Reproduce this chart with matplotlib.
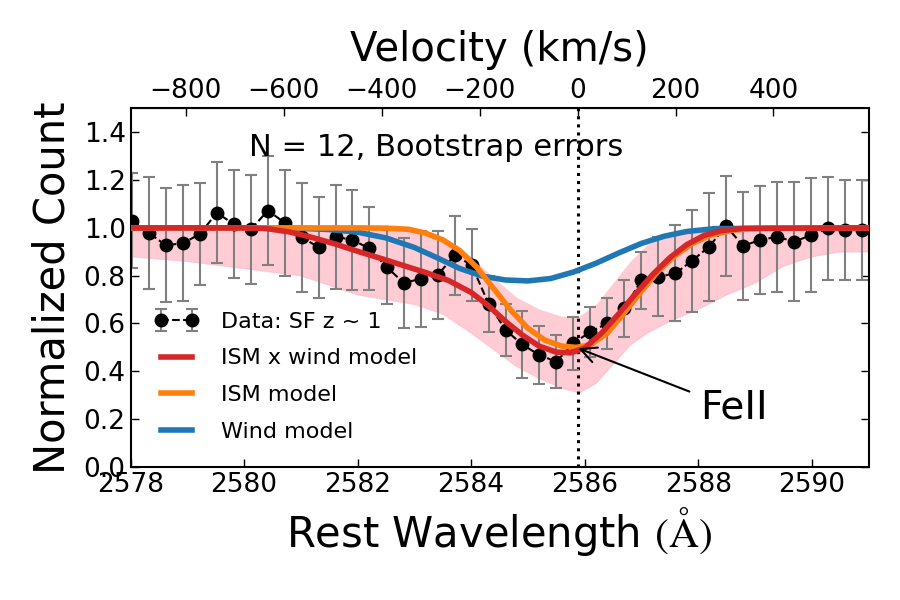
"""FeII 2586 absorption profile: stacked SF z~1 spectrum with ISM / wind model fits."""

import matplotlib
matplotlib.use("Agg")
import matplotlib.pyplot as plt
import numpy as np

plt.rcParams["font.family"] = ["DejaVu Sans"]
plt.rcParams["mathtext.fontset"] = "stix"

C_KMS = 299792.458
LAMBDA0 = 2585.876  # FeII rest wavelength (air)

# stacked data
wave = [2578.03, 2578.32, 2578.62, 2578.92, 2579.22, 2579.52, 2579.82, 2580.12,
        2580.42, 2580.72, 2581.02, 2581.32, 2581.62, 2581.91, 2582.21, 2582.51,
        2582.81, 2583.11, 2583.41, 2583.71, 2584.01, 2584.31, 2584.61, 2584.90,
        2585.20, 2585.50, 2585.80, 2586.10, 2586.40, 2586.70, 2587.00, 2587.30,
        2587.60, 2587.89, 2588.19, 2588.49, 2588.79, 2589.09, 2589.39, 2589.69,
        2589.99, 2590.29, 2590.59, 2590.89]
flux = [1.030, 0.979, 0.928, 0.935, 0.974, 1.063, 1.016, 0.994,
        1.072, 1.021, 0.960, 0.918, 0.963, 0.949, 0.914, 0.837,
        0.770, 0.786, 0.802, 0.886, 0.844, 0.681, 0.572, 0.512,
        0.468, 0.440, 0.517, 0.565, 0.600, 0.663, 0.781, 0.795,
        0.810, 0.862, 0.921, 1.008, 0.925, 0.949, 0.963, 0.942,
        0.970, 0.998, 0.991, 0.991]
flux_err = [0.200, 0.233, 0.238, 0.243, 0.212, 0.212, 0.227, 0.227,
            0.227, 0.222, 0.227, 0.212, 0.217, 0.208, 0.175, 0.155,
            0.187, 0.200, 0.183, 0.165, 0.150, 0.117, 0.110, 0.140,
            0.120, 0.110, 0.110, 0.105, 0.105, 0.120, 0.120, 0.165,
            0.200, 0.214, 0.226, 0.210, 0.225, 0.225, 0.230, 0.250,
            0.237, 0.216, 0.210, 0.210]

# bootstrap model envelope (pink lines)
boot_wave = [2578.0, 2579.0, 2580.0, 2581.0, 2582.0, 2582.5, 2583.0, 2583.5,
             2584.0, 2584.4, 2584.8, 2585.2, 2585.6, 2585.9, 2586.2, 2586.5,
             2586.8, 2587.1, 2587.5, 2588.0, 2588.5, 2589.0, 2589.5, 2590.0,
             2590.5, 2591.0]
boot_lo = [0.88, 0.86, 0.83, 0.80, 0.72, 0.70, 0.68, 0.64,
           0.56, 0.49, 0.42, 0.37, 0.33, 0.31, 0.35, 0.43,
           0.51, 0.56, 0.61, 0.66, 0.72, 0.77, 0.84, 0.88,
           0.90, 0.90]
boot_hi = [1.00, 1.00, 1.00, 1.00, 1.00, 1.00, 0.99, 0.96,
           0.88, 0.79, 0.71, 0.66, 0.63, 0.63, 0.68, 0.77,
           0.86, 0.93, 0.97, 1.00, 1.00, 1.00, 1.00, 1.00,
           1.00, 1.00]

# best-fit models
ism_wave = [2578.0, 2581.0, 2582.0, 2582.5, 2582.9, 2583.2, 2583.5, 2583.8,
            2584.1, 2584.4, 2584.7, 2585.0, 2585.3, 2585.6, 2585.85, 2586.1,
            2586.4, 2586.7, 2587.0, 2587.3, 2587.6, 2587.9, 2588.2, 2588.6,
            2589.0, 2591.0]
ism_flux = [1.000, 1.000, 1.000, 0.999, 0.994, 0.978, 0.950, 0.905,
            0.835, 0.745, 0.655, 0.580, 0.530, 0.505, 0.500, 0.510,
            0.560, 0.645, 0.735, 0.820, 0.885, 0.935, 0.968, 0.990,
            0.998, 1.000]

tot_wave = [2578.0, 2580.0, 2580.4, 2580.8, 2581.2, 2581.6, 2582.0, 2582.4,
            2582.8, 2583.2, 2583.6, 2584.0, 2584.3, 2584.6, 2584.9, 2585.2,
            2585.5, 2585.75, 2586.0, 2586.3, 2586.6, 2586.9, 2587.2, 2587.5,
            2587.8, 2588.1, 2588.4, 2588.8, 2591.0]
tot_flux = [1.000, 1.000, 0.997, 0.983, 0.960, 0.933, 0.902, 0.873,
            0.843, 0.813, 0.780, 0.730, 0.675, 0.610, 0.552, 0.505,
            0.480, 0.477, 0.497, 0.560, 0.640, 0.725, 0.805, 0.875,
            0.930, 0.968, 0.988, 0.998, 1.000]

wind_wave = [2578.0, 2580.5, 2581.0, 2581.5, 2582.0, 2582.5, 2583.0, 2583.4,
             2583.8, 2584.2, 2584.6, 2585.0, 2585.4, 2585.8, 2586.2, 2586.6,
             2587.0, 2587.4, 2587.8, 2588.3, 2591.0]
wind_flux = [1.000, 1.000, 0.998, 0.993, 0.982, 0.958, 0.918, 0.875,
             0.830, 0.798, 0.782, 0.778, 0.788, 0.815, 0.852, 0.895,
             0.935, 0.965, 0.985, 0.997, 1.000]

XTICKS = [2578, 2580, 2582, 2584, 2586, 2588, 2590]
YTICKS = [0.0, 0.2, 0.4, 0.6, 0.8, 1.0, 1.2, 1.4]
VTICKS = [-800, -600, -400, -200, 0, 200, 400]


def to_vel(lam):
    return (np.asarray(lam) - LAMBDA0) / LAMBDA0 * C_KMS


def to_lam(v):
    return LAMBDA0 * (1 + np.asarray(v) / C_KMS)


def main():
    fig = plt.figure(figsize=(9, 6), dpi=100)
    ax = fig.add_axes([0.145, 0.222, 0.82, 0.5973])

    ax.fill_between(boot_wave, boot_lo, boot_hi, color="pink", alpha=0.8, lw=0, zorder=1)
    ax.plot(boot_wave, boot_lo, color="pink", lw=1, alpha=0.6, zorder=1)

    ax.axvline(LAMBDA0, color="k", ls=":", lw=2.2, zorder=1.5)

    data = ax.errorbar(wave, flux, yerr=flux_err, fmt="o--", color="k", ms=9, lw=1.5,
                       ecolor="gray", elinewidth=1.5, capsize=4, capthick=1.5,
                       zorder=2, label="Data: SF z ~ 1")
    l_tot, = ax.plot(tot_wave, tot_flux, color="#d62728", lw=4, zorder=3, label="ISM x wind model")
    l_ism, = ax.plot(ism_wave, ism_flux, color="#ff7f0e", lw=4, zorder=2.9, label="ISM model")
    l_wind, = ax.plot(wind_wave, wind_flux, color="#1f77b4", lw=4, zorder=2.8, label="Wind model")

    ax.text(2583.38, 1.338, "N = 12, Bootstrap errors", fontsize=22, ha="center", va="center")
    ax.annotate("FeII", xy=(2585.89, 0.496), xytext=(2588.03, 0.204), fontsize=28,
                ha="left", va="baseline",
                arrowprops=dict(arrowstyle="->", color="k", lw=1.5,
                                relpos=(0, 0.8), shrinkA=6, shrinkB=0))

    ax.set_xlim(2578, 2591)
    ax.set_ylim(0, 1.5)
    ax.set_xticks(XTICKS)
    ax.set_yticks(YTICKS)
    ax.set_xlabel(r"Rest Wavelength $(\mathrm{\AA})$", fontsize=30, labelpad=5)
    ax.set_ylabel("Normalized Count", fontsize=30, labelpad=7)
    ax.tick_params(direction="in", length=6, width=1, labelsize=19, top=False, right=True)
    for sp in ax.spines.values():
        sp.set_linewidth(1.5)

    sec = ax.secondary_xaxis("top", functions=(to_vel, to_lam))
    sec.set_xticks(VTICKS)
    sec.tick_params(direction="in", length=6, width=1, labelsize=19)
    sec.set_xlabel("Velocity (km/s)", fontsize=29, labelpad=12)

    ax.legend(handles=[data, l_tot, l_ism, l_wind],
              loc="lower left", bbox_to_anchor=(0.02, 0.045), borderaxespad=0,
              frameon=False, fontsize=16, numpoints=2, handlelength=2.0,
              handletextpad=1.0, labelspacing=0.75)

    fig.savefig("out.png", dpi=100)
    plt.close(fig)


if __name__ == "__main__":
    main()
